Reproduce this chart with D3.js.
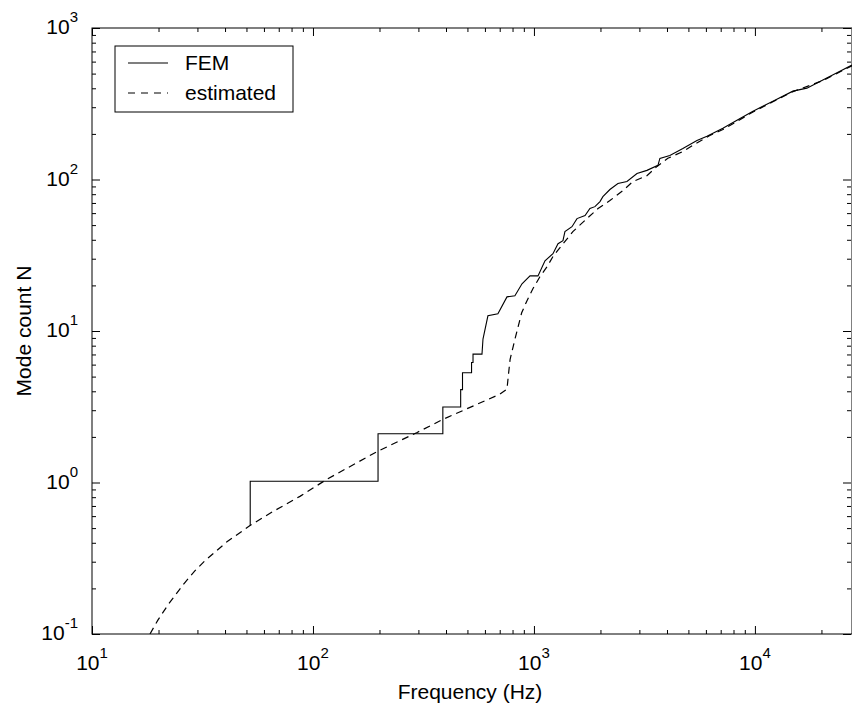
<!DOCTYPE html>
<html>
<head>
<meta charset="utf-8">
<script src="https://cdn.jsdelivr.net/npm/d3@7"></script>
<style>
  body { margin: 0; background: #fff; }
  text { font-family: "Liberation Sans", Arial, Helvetica, sans-serif; fill: #000; }
</style>
</head>
<body>
<svg id="svg" width="852" height="706"></svg>
<script>
// FEM mode count (staircase corners listed where the steps are wide)
let femFreq = [52, 52, 197, 197, 387, 387, 466, 466, 475, 475, 522, 522, 530, 530, 582, 588, 619, 687,
  755, 820, 883, 960, 1043, 1122, 1219, 1285, 1353, 1381, 1486, 1566, 1703, 1792, 1888, 1990, 2051,
  2207, 2399, 2636, 2926, 3246, 3640, 3715, 4121, 4720, 5466, 6067, 7163, 8294, 9800, 12060, 14860,
  17180, 20300, 24250, 27500];
let femCount = [0.52, 1.02, 1.02, 2.1, 2.1, 3.15, 3.15, 4.1, 4.1, 5.3, 5.3, 6.2, 6.2, 7.04, 7.04, 8.85, 12.6, 13,
  16.8, 17.1, 20.5, 23.1, 23.1, 29.1, 32.4, 37.7, 39.5, 45.3, 48.8, 55.2, 57.8, 64.3, 66.2, 71.5, 77.1,
  85.9, 94.1, 97, 109.6, 114.9, 124, 137.8, 144, 160, 181, 193, 218, 246, 282, 329, 383,
  401, 453, 519, 569];

// estimated mode count
let estFreq = [18.3, 19.9, 22.1, 25.8, 29.2, 32.4, 40.8, 51.9, 65.9, 87.3, 115.6, 195, 296, 387, 702, 755,
  765, 780, 820, 880, 929, 989, 1064, 1145, 1219, 1271, 1500, 1737, 1950, 2207, 2529, 2805, 3246,
  3606, 4036, 4720, 5236, 6250, 7163, 8294, 9800, 12060, 14860, 20300, 27500];
let estCount = [0.1, 0.124, 0.156, 0.211, 0.261, 0.304, 0.406, 0.52, 0.643, 0.81, 1.05, 1.6, 2.14, 2.61, 3.83, 4.13,
  5.0, 6.5, 8.8, 13.2, 15.8, 19, 22.8, 26.5, 31, 33.5, 45.3, 55.2, 64.3, 72.6, 84.5, 97, 106,
  122, 138, 153, 168, 195, 214, 242, 279, 326, 380, 450, 563];

let xTicks = [10, 100, 1000, 10000];
let xTickLabels = [["10", "1"], ["10", "2"], ["10", "3"], ["10", "4"]];
let yTicks = [0.1, 1, 10, 100, 1000];
let yTickLabels = [["10", "-1"], ["10", "0"], ["10", "1"], ["10", "2"], ["10", "3"]];

let seriesNames = ["FEM", "estimated"];

//////////////////////////////////////////////////////////////////////////////

// the right edge of the axes box sits right at the border of the picture
let plotLeft = 92, plotRight = 852, plotTop = 28, plotBottom = 634;

let x = d3.scaleLog().domain([10, 27500]).range([plotLeft, plotRight]);
let y = d3.scaleLog().domain([0.1, 1000]).range([plotBottom, plotTop]);

let svg = d3.select("#svg");

svg.append("defs").append("clipPath").attr("id", "clip")
  .append("rect")
  .attr("x", plotLeft).attr("y", plotTop)
  .attr("width", plotRight - plotLeft).attr("height", plotBottom - plotTop);

// minor ticks 2..9 in each decade
function minorTicks(scale) {
  let d = scale.domain();
  let out = [];
  for (let p = Math.floor(Math.log10(d[0])); p <= Math.ceil(Math.log10(d[1])); ++p) {
    for (let m = 2; m <= 9; ++m) {
      let v = m * Math.pow(10, p);
      if (v > d[0] && v < d[1]) out.push(v);
    }
  }
  return out;
}

function styleAxis(g) {
  g.select(".domain").remove();
  g.selectAll(".tick line").attr("stroke", "#000").attr("stroke-width", 1);
}

// inward ticks on all four sides, major and minor
let axes = [
  { make: d3.axisBottom, scale: x, pos: "translate(0," + plotBottom + ")" },
  { make: d3.axisTop, scale: x, pos: "translate(0," + plotTop + ")" },
  { make: d3.axisLeft, scale: y, pos: "translate(" + plotLeft + ",0)" },
  { make: d3.axisRight, scale: y, pos: "translate(" + (plotRight - 1) + ",0)" }
];
axes.forEach(function(a) {
  let major = a.scale === x ? xTicks : yTicks;
  svg.append("g").attr("transform", a.pos)
    .call(a.make(a.scale).tickValues(major).tickSize(-8).tickFormat(""))
    .call(styleAxis);
  svg.append("g").attr("transform", a.pos)
    .call(a.make(a.scale).tickValues(minorTicks(a.scale)).tickSize(-4).tickFormat(""))
    .call(styleAxis);
});

// frame
svg.append("rect")
  .attr("x", plotLeft).attr("y", plotTop)
  .attr("width", plotRight - plotLeft).attr("height", plotBottom - plotTop)
  .attr("fill", "none").attr("stroke", "#000").attr("stroke-width", 1);

// tick labels with superscript exponents
xTicks.forEach(function(t, i) {
  let txt = svg.append("text")
    .attr("x", x(t)).attr("y", plotBottom + 36)
    .attr("text-anchor", "middle").style("font-size", "21px");
  txt.append("tspan").text(xTickLabels[i][0]);
  txt.append("tspan").attr("dy", -12).style("font-size", "15px").text(xTickLabels[i][1]);
});

yTicks.forEach(function(t, i) {
  let txt = svg.append("text")
    .attr("x", 78).attr("y", y(t) + 6)
    .attr("text-anchor", "end").style("font-size", "21px");
  txt.append("tspan").text(yTickLabels[i][0]);
  txt.append("tspan").attr("dy", -12).style("font-size", "15px").text(yTickLabels[i][1]);
});

// axis titles
svg.append("text")
  .attr("x", (plotLeft + plotRight) / 2 - 2).attr("y", 699)
  .attr("text-anchor", "middle").style("font-size", "21px")
  .text("Frequency (Hz)");

svg.append("text")
  .attr("transform", "translate(31," + (plotTop + plotBottom) / 2 + ") rotate(-90)")
  .attr("text-anchor", "middle").style("font-size", "21px")
  .text("Mode count N");

// curves
let line = d3.line()
  .x(function(d) { return x(d[0]); })
  .y(function(d) { return y(d[1]); });

let femData = femFreq.map(function(f, i) { return [f, femCount[i]]; });
let estData = estFreq.map(function(f, i) { return [f, estCount[i]]; });

let plot = svg.append("g").attr("clip-path", "url(#clip)");

plot.append("path").datum(estData)
  .attr("d", line)
  .attr("fill", "none").attr("stroke", "#000").attr("stroke-width", 1.2)
  .attr("stroke-dasharray", "7,5");

plot.append("path").datum(femData)
  .attr("d", line)
  .attr("fill", "none").attr("stroke", "#000").attr("stroke-width", 1.1);

// legend
let lg = svg.append("g");
lg.append("rect")
  .attr("x", 115).attr("y", 46).attr("width", 178).attr("height", 66)
  .attr("fill", "#fff").attr("stroke", "#000").attr("stroke-width", 1);

let dashes = [null, "7,6"];
seriesNames.forEach(function(name, i) {
  let ly = 63 + i * 30;
  lg.append("line")
    .attr("x1", 128).attr("x2", 168).attr("y1", ly).attr("y2", ly)
    .attr("stroke", "#000").attr("stroke-width", 1.1)
    .attr("stroke-dasharray", dashes[i]);
  lg.append("text")
    .attr("x", 185).attr("y", ly + 7)
    .style("font-size", "21px")
    .text(name);
});
</script>
</body>
</html>
